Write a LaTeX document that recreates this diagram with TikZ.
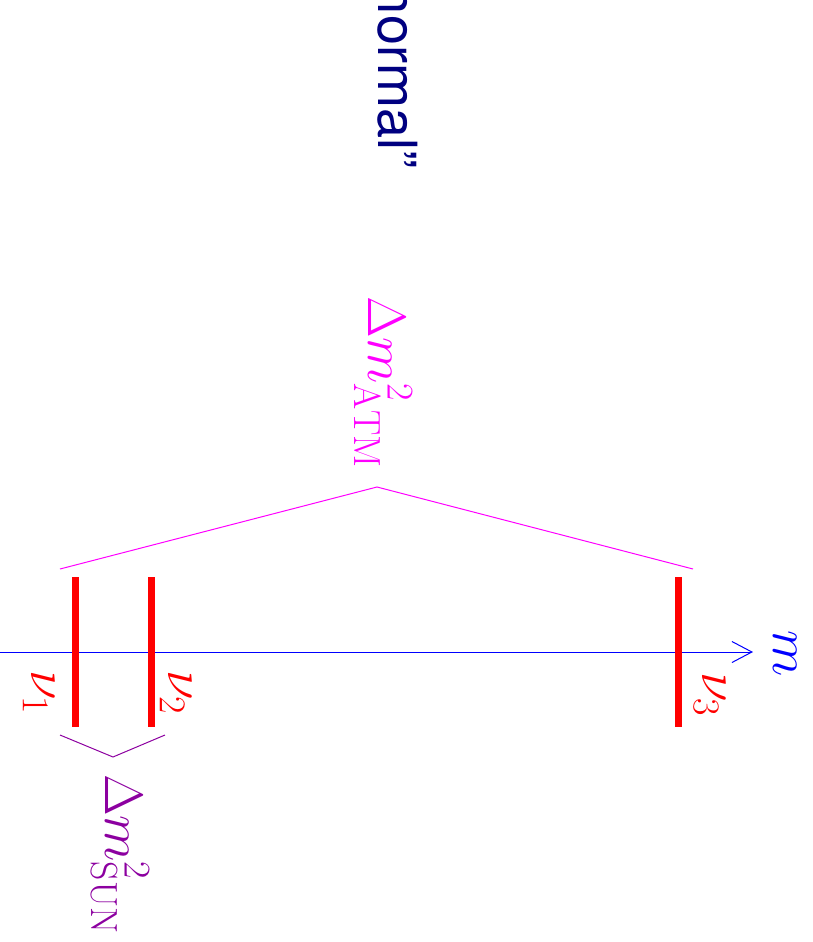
\RequirePackage{fix-cm}
\documentclass[tikz,border=0pt]{standalone}
\usepackage{fontspec}
\setsansfont{TeX Gyre Heros}
\usetikzlibrary{arrows.meta}
\definecolor{navytxt}{RGB}{0,0,128}
\definecolor{sunpurple}{RGB}{140,0,160}
\definecolor{atmmag}{RGB}{255,0,255}
\definecolor{pureblue}{RGB}{0,0,255}
\definecolor{purered}{RGB}{255,0,0}
\tikzset{
  axisline/.style={pureblue, line width=1pt},
  massbar/.style={purered, line width=7pt},
  atmline/.style={atmmag, line width=1pt},
  sunline/.style={sunpurple, line width=1pt},
  rlabel/.style={rotate=-90, inner sep=0pt, outer sep=0pt},
  bigmath/.style={font=\fontsize{54}{60}\selectfont}
}
\begin{document}
\begin{tikzpicture}[x=1pt,y=-1pt]
\useasboundingbox (0,0) rectangle (812,942);
% axis
\coordinate (axs) at (0,652);
\coordinate (axe) at (753,652);
\draw[axisline, -{Straight Barb[length=20pt,width=21pt,line width=1pt]}] (axs) -- (axe);
\node[rlabel, bigmath, pureblue, anchor=base west] (mlab) at (773,630) {$m$};
% bars
\coordinate (b1t) at (75,577); \coordinate (b1b) at (75,727);
\coordinate (b2t) at (151,577); \coordinate (b2b) at (151,727);
\coordinate (b3t) at (678,577); \coordinate (b3b) at (678,727);
\draw[massbar] (b1t) -- (b1b);
\draw[massbar] (b2t) -- (b2b);
\draw[massbar] (b3t) -- (b3b);
\node[rlabel, bigmath, purered, anchor=base west] (nu1) at (31,670) {$\nu_1$};
\node[rlabel, bigmath, purered, anchor=base west] (nu2) at (168,670) {$\nu_2$};
\node[rlabel, bigmath, purered, anchor=base west] (nu3) at (702,672) {$\nu_3$};
% atmospheric splitting
\coordinate (a1) at (60,569);
\coordinate (aapex) at (377,487);
\coordinate (a2) at (693,569);
\draw[atmline] (a1) -- (aapex) -- (a2);
\node[rlabel, bigmath, atmmag, anchor=base west] (atm) at (368,296) {$\Delta m^2_{\mathrm{ATM}}$};
% solar splitting
\coordinate (s1) at (60,735);
\coordinate (sapex) at (113,757);
\coordinate (s2) at (165,735);
\draw[sunline] (s1) -- (sapex) -- (s2);
\node[rlabel, bigmath, sunpurple, anchor=base west] (sun) at (105,774) {$\Delta m^2_{\mathrm{SUN}}$};
% title
\node[rlabel, navytxt, anchor=base east, font=\sffamily\fontsize{54}{60}\selectfont] (title) at (378,168) {normal”};
\end{tikzpicture}
\end{document}
